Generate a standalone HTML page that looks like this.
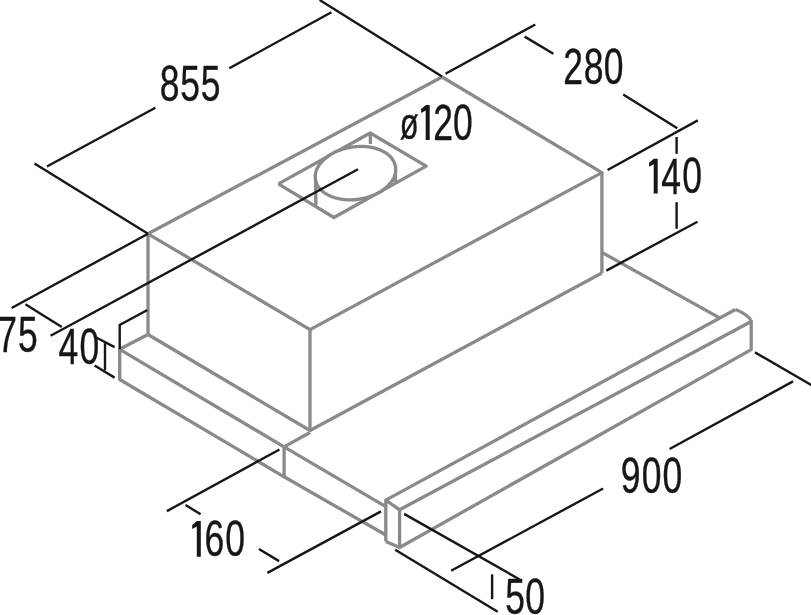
<!DOCTYPE html>
<html><head><meta charset="utf-8"><style>
html,body{margin:0;padding:0;background:#fff;width:811px;height:615px;overflow:hidden;font-family:"Liberation Sans",sans-serif;}
svg{display:block;will-change:transform}
</style></head><body>
<svg width="811" height="615" viewBox="0 0 811 615">
<g fill="none" stroke="#8a8a8a" stroke-width="3.3" stroke-linejoin="round" stroke-linecap="butt">
<polyline points="148,233.8 442,77 601.9,172.6 310,329.6 148,233.8"/>
<polyline points="148,233.8 148,334.5"/>
<polyline points="310,329.6 310,430.5"/>
<polyline points="601.9,172.3 601.9,273"/>
<polyline points="148,334.5 310,430.5 601.9,273"/>
<polyline points="147.4,334.7 119.7,349.3 119.7,379.5 284.1,476.8 284.1,446.9 119.7,349.3"/>
<polyline points="284.1,446.9 310,432.5"/>
<polyline points="284.1,446.9 385.8,506.6"/>
<polyline points="284.1,476.8 385.8,535"/>
<polyline points="601.9,252.4 719.6,317.9"/>
<polyline points="385.8,541.5 385.8,500.1 735.4,309.5"/>
<polyline points="385.8,500.1 399.6,509.8 751.2,321.5"/>
<polyline points="399.6,509.8 399.6,547.5 751.2,349.6 751.2,320"/>
<polyline points="385.8,541.5 399.6,547.5"/>
<polyline points="278.4,183.9 370.2,133 426.2,166.1 333.9,217.5 278.4,183.9"/>
</g>
<g fill="none" stroke="#8a8a8a" stroke-width="3.3">
<line x1="315.6" y1="181" x2="315.9" y2="205"/>
<line x1="395.4" y1="169" x2="395.4" y2="182.5"/>
<line x1="370.2" y1="133" x2="370.4" y2="144"/>
<path d="M735.4 309.5 Q744.6 312.6 751.2 320"/>
</g>
<ellipse cx="355.5" cy="173.1" rx="40.6" ry="26.3" transform="rotate(-9 355.5 173.1)" fill="#fff" stroke="#8a8a8a" stroke-width="3.3"/>
<g fill="none" stroke="#161616" stroke-width="2.4" stroke-linecap="butt">
<polyline points="34.5,163.6 148,233.8"/>
<polyline points="46.9,166.5 155.4,107.8"/>
<polyline points="229.3,68.3 331.4,12.3"/>
<polyline points="319.6,0 442,76.4"/>
<polyline points="445.5,73.7 535.3,24.5"/>
<polyline points="524.6,36.6 553.4,53.8"/>
<polyline points="623.2,94.5 677.3,128.2"/>
<polyline points="607.6,170 697.8,120.4"/>
<polyline points="676.6,137 676.6,153.8"/>
<polyline points="676.6,202.2 676.6,228.8"/>
<polyline points="606.4,270.6 697.5,221.7"/>
<polyline points="50.6,335.8 358,169.3"/>
<polyline points="11.6,308 148,233.8"/>
<polyline points="25.4,304.3 61.8,327"/>
<polyline points="96.2,337.5 114.6,347.1"/>
<polyline points="94.6,365.5 114.6,377.6"/>
<polyline points="105,343.1 105,370.3"/>
<polyline points="147.4,310 119.7,324.9 119.7,349.1"/>
<polyline points="166.9,511.1 279.5,449.5"/>
<polyline points="185.5,505 200.6,514.2"/>
<polyline points="258.9,549 279.1,561.1"/>
<polyline points="267.4,572.9 381,511.4"/>
<polyline points="755,352.4 812,385.5"/>
<polyline points="669.6,449 793,381.4"/>
<polyline points="451.1,570.8 603.1,488.5"/>
<polyline points="404.1,513.9 519.2,579.2"/>
<polyline points="395.2,549.7 497.7,611.8"/>
<polyline points="492.1,574.3 492.1,599.2"/>
</g>
<g fill="#161616" font-family="Liberation Sans, sans-serif" font-size="50" stroke="#161616" stroke-width="0.4">
<text transform="translate(159.64 101.1) scale(0.71 1)">8</text>
<text transform="translate(180.14 101.1) scale(0.71 1)">5</text>
<text transform="translate(200.74 101.1) scale(0.71 1)">5</text>
<text transform="translate(563.20 84.4) scale(0.71 1)">2</text>
<text transform="translate(583.64 83.9) scale(0.71 1)">8</text>
<text transform="translate(603.84 83.9) scale(0.71 1)">0</text>
<path d="M649.10 162.70 L653.90 158.70 H657.70 V193.60 H653.70 V164.30 L649.10 166.70 Z" stroke="none"/>
<text transform="translate(661.27 193.6) scale(0.71 1)">4</text>
<text transform="translate(682.14 193.1) scale(0.71 1)">0</text>
<path d="M421.10 109.00 L425.90 105.00 H429.70 V140.00 H425.70 V110.60 L421.10 113.00 Z" stroke="none"/>
<text transform="translate(433.20 140) scale(0.71 1)">2</text>
<text transform="translate(452.94 139.5) scale(0.71 1)">0</text>
<text transform="translate(399.65 139.29999999999998) scale(0.62 0.9)">ø</text>
<text transform="translate(-2.65 352.2) scale(0.71 1)">7</text>
<text transform="translate(18.04 351.7) scale(0.71 1)">5</text>
<text transform="translate(58.57 364) scale(0.71 1)">4</text>
<text transform="translate(79.54 363.5) scale(0.71 1)">0</text>
<path d="M192.20 525.00 L197.00 521.00 H200.80 V556.70 H196.80 V526.60 L192.20 529.00 Z" stroke="none"/>
<text transform="translate(204.50 556.2) scale(0.71 1)">6</text>
<text transform="translate(225.24 556.2) scale(0.71 1)">0</text>
<text transform="translate(620.70 492.5) scale(0.71 1)">9</text>
<text transform="translate(641.74 492.5) scale(0.71 1)">0</text>
<text transform="translate(662.54 492.5) scale(0.71 1)">0</text>
<text transform="translate(505.14 613.5) scale(0.71 1)">5</text>
<text transform="translate(525.14 613.5) scale(0.71 1)">0</text>
</g>
</svg>
</body></html>
